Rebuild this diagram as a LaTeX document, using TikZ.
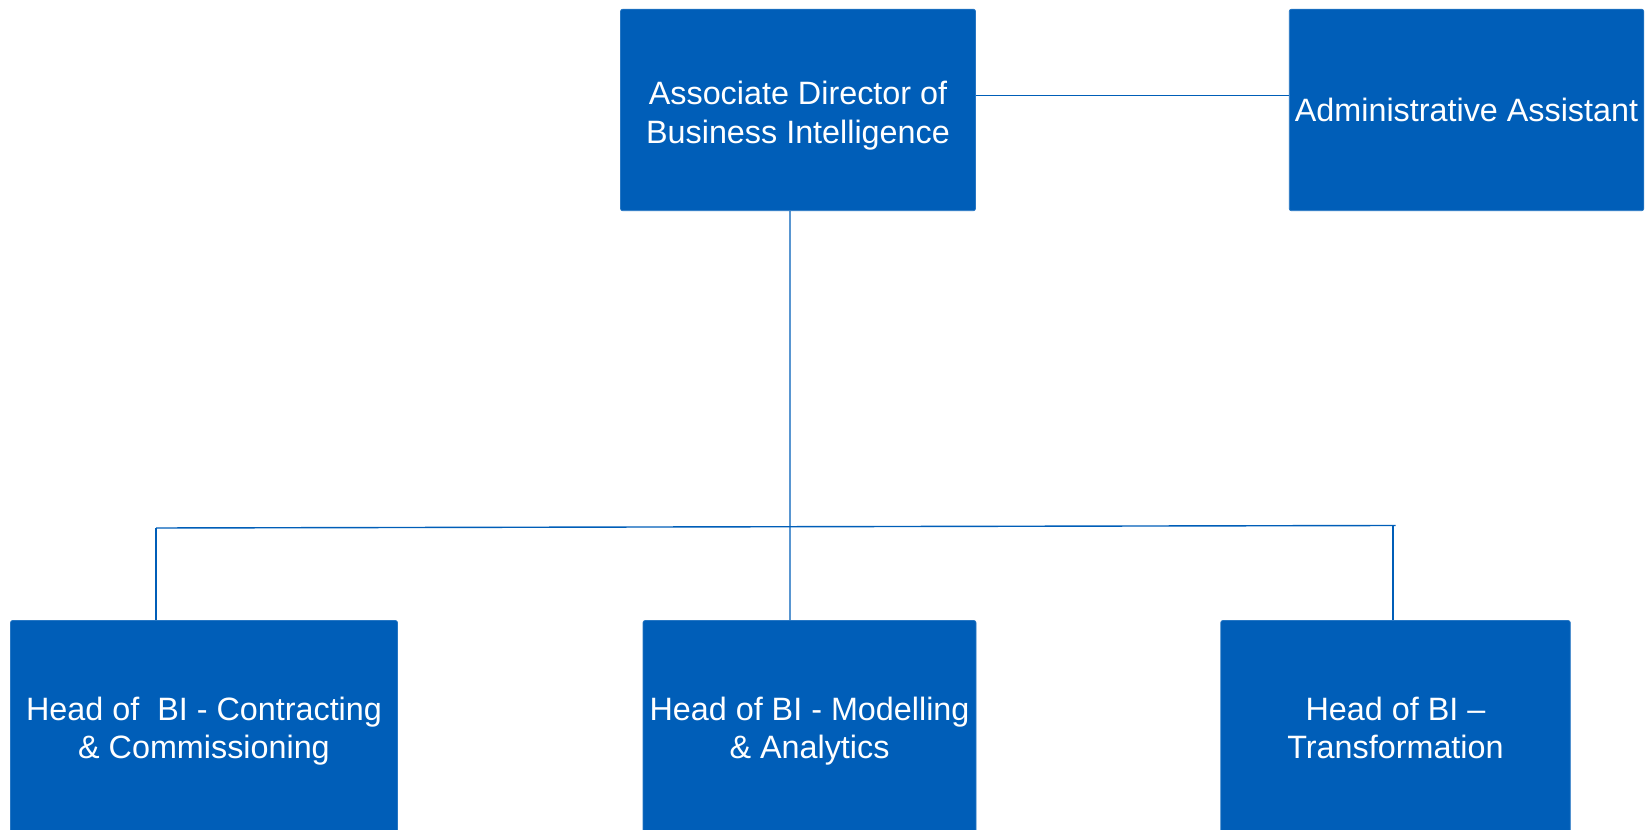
\documentclass[tikz,border=0pt]{standalone}
\usepackage{fontspec}
\setmainfont{Liberation Sans}
\usepackage{xcolor}
\usetikzlibrary{positioning, calc}
\definecolor{nhsblue}{RGB}{0,94,184}
\tikzset{
  role/.style  = {fill=nhsblue, draw=nhsblue!85!white, line width=0.4pt,
                  rounded corners=1.2pt, text=white, align=center,
                  font=\fontsize{18.4}{22}\selectfont, inner sep=0pt},
  link/.style  = {draw=nhsblue, line width=0.8pt}
}

\begin{document}
\begin{tikzpicture}
    \useasboundingbox (0,0) rectangle (32.94,16.6);
    % Top row
    \node[role, minimum width=7.10cm, minimum height=4.03cm](dir)   at (15.96,14.40)
        {\rule{0pt}{7.0mm}Associate Director of\\Business Intelligence};
    \node[role, minimum width=7.09cm, minimum height=4.03cm](admin) at (29.33,14.40)
        {Administrative Assistant};
    % Heads
    \node[role, minimum width=7.74cm, minimum height=4.42cm](hcc)   at (4.08,1.98)
        {Head of~ BI - Contracting\\\& Commissioning};
    \node[role, minimum width=6.66cm, minimum height=4.42cm](hma)   at (16.19,1.98)
        {Head of BI - Modelling\\\& Analytics};
    \node[role, minimum width=6.99cm, minimum height=4.42cm](htr)   at (27.91,1.98)
        {Head of BI --\\Transformation\rule[-1.3mm]{0pt}{1mm}};

    \coordinate (busL) at ([xshift=-9.6mm]hcc.north |- 0,6.04);
    \coordinate (busR) at (htr.north |- 0,6.09);

    \draw[link]([yshift=2.9mm]dir.east) -- ([yshift=2.9mm]admin.west);
    \draw[link]([xshift=-1.6mm]dir.south) -- ([xshift=-3.9mm]hma.north);
    \draw[link](busL) -- (busR);
    \draw[link](busL) -- ([xshift=-9.6mm]hcc.north);
    \draw[link]([xshift=-0.5mm]busR) -- ([xshift=-0.5mm]htr.north);
\end{tikzpicture}
\end{document}
